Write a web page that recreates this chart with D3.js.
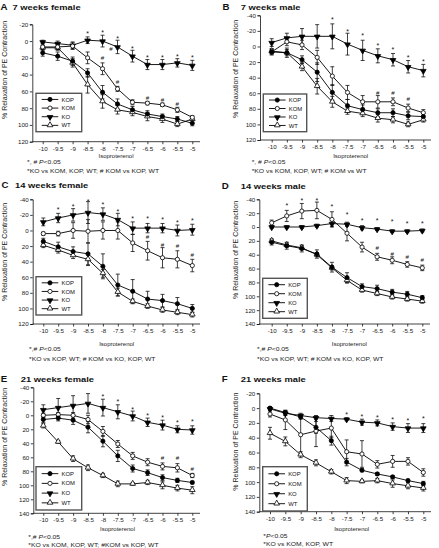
<!DOCTYPE html>
<html><head><meta charset="utf-8">
<script src="https://cdn.jsdelivr.net/npm/d3@7"></script>
<style>
html,body{margin:0;padding:0;background:#fff;}
svg{display:block;font-family:"Liberation Sans",Arial,Helvetica,sans-serif;}
</style></head><body>
<svg id="chart" width="439" height="548"></svg>
<script>
// ---------------- DATA ----------------
const doses = [-10,-9.5,-9,-8.5,-8,-7.5,-7,-6.5,-6,-5.5,-5];
const seriesNames = ["KOP","KOM","KO","WT"];

// Panel A: 7 weeks female
const meanA = {
  KOP:[14,18,24,38,61,75,82,87,90,93,98],
  KOM:[7,7,6,20,33,57,73,74,76,82,91],
  KO:[1,3,5,-1,0,7,18,28,28,26,29],
  WT:[8,8,26,52,72,82,85,90,93,99,93]};
const errA = {
  KOP:[4,5,5,5,8,6,4,4,3,3,3],
  KOM:[2,3,4,7,7,3,3,2,2,3,2],
  KO:[2,3,4,4,7,8,7,6,6,5,6],
  WT:[3,3,5,10,8,5,4,5,4,3,2]};
const starsA = [[-8.5,-10.8],[-8,-11.6],[-7.5,-4.8],[-7,7.2],[-6.5,17.5],[-6,17.5],[-5.5,16.3],[-5,18.3]];
const hashA = [[-7.72,9.6],[-8,19.5],[-7.5,48],[-6.5,67.4],[-6,69.4],[-5.5,74.2]];
const yTicksA = [-20,0,20,40,60,80,100,120];

// Panel B: 7 weeks male
const meanB = {
  KOP:[7,8,17,33,59,76,81,85,85,89,90],
  KOM:[7,-6,-2,14,38,59,71,71,71,79,85],
  KO:[-5,-11,-13,-13,-13,-3,5,12,17,26,31],
  WT:[6,8,26,51,71,83,86,92,94,100,94]};
const errB = {
  KOP:[4,6,5,12,10,8,6,5,5,5,4],
  KOM:[3,5,6,9,12,9,8,8,5,5,4],
  KO:[5,6,10,15,16,14,13,9,8,8,8],
  WT:[3,4,5,10,7,4,4,5,4,3,3]};
const starsB = [[-8,-36.4],[-7.5,-21.4],[-7,-15.8],[-6.5,-3],[-6,2.6],[-5.5,12.8],[-5,17.1]];
const hashB = [[-6.5,59],[-6,59.9],[-5.5,67.2]];
const yTicksB = [-40,-20,0,20,40,60,80,100,120];

// Panel C: 14 weeks female
const meanC = {
  KOP:[14,21,27,30,46,70,78,88,90,94,100],
  KOM:[4,4,0,1,0,0,16,26,35,37,45],
  KO:[-11,-16,-20,-23,-21,-14,-3,-3,-3,0,-1],
  WT:[19,25,32,37,55,79,91,97,102,105,108]};
const errC = {
  KOP:[4,6,6,14,16,14,15,10,8,8,5],
  KOM:[2,3,10,15,11,11,11,12,13,11,8],
  KO:[5,6,8,14,8,8,8,6,6,7,7],
  WT:[3,4,4,8,5,5,3,3,3,3,3]};
const starsC = [[-9.5,-28.2],[-9,-33],[-8.5,-38.9],[-8,-35.1],[-7.5,-26.1],[-7,-17.5],[-6.5,-17.5],[-6,-16.3],[-5.5,-12],[-5,-14.1]];
const hashC = [[-6.5,8.1],[-6,18],[-5.5,20.1],[-5,30.8]];
const yTicksC = [-40,-20,0,20,40,60,80,100,120];

// Panel D: 14 weeks male
const meanD = {
  KOP:[22,27,31,39,58,73,86,89,94,97,102],
  KOM:[-6,-16,-23,-24,-11,9,29,43,48,54,59],
  KO:[0,0,0,-2,-5,-4,1,3,6,6,5],
  WT:[20,26,30,40,59,77,91,96,101,104,107]};
const errD = {
  KOP:[4,5,5,6,7,7,4,5,4,4,3],
  KOM:[4,8,11,12,11,11,7,5,5,4,4],
  KO:[2,2,2,2,4,3,3,2,2,2,2],
  WT:[3,3,3,3,3,4,3,3,3,3,3]};
const starsD = [[-9.5,-33.7],[-9,-40.9],[-8.5,-40.9],[-8,-31.3],[-7.5,-20.7],[-7,-12],[-6.5,-12],[-6,-9.6],[-5.5,-7.2],[-5,-7.2]];
const hashD = [[-6.5,30.3],[-6,38.5],[-5.5,42.3],[-5,46.7]];
const yTicksD = [-40,-20,0,20,40,60,80,100,120,140];

// Panel E: 21 weeks female
const meanE = {
  KOP:[6,4,7,17,37,58,76,82,89,93,96],
  KOM:[0,-1,0,6,23,41,58,67,73,75,86],
  KO:[-8,-11,-14,-17,-11,-5,1,10,14,20,21],
  WT:[15,38,62,75,86,98,98,96,100,104,107]};
const errE = {
  KOP:[4,4,6,8,8,8,5,4,4,3,2],
  KOM:[3,3,4,6,7,5,5,5,5,6,3],
  KO:[7,13,14,14,12,10,7,6,7,5,6],
  WT:[3,2,4,4,3,4,2,3,5,4,5]};
const starsE = [[-8,-29.5],[-7.5,-21.4],[-7,-10.5],[-6.5,-2.4],[-6,1],[-5.5,8.6],[-5,7.1]];
const hashE = [[-6,61],[-5.5,61],[-5,76]];
const yTicksE = [-40,-20,0,20,40,60,80,100,120,140];

// Panel F: 21 weeks male
const meanF = {
  KOP:[0,6,12,26,44,73,84,89,93,98,102],
  KOM:[8,16,36,31,27,59,62,76,72,72,87],
  KO:[1,7,10,13,14,15,19,20,25,27,27],
  WT:[34,45,63,74,86,98,99,98,102,105,108]};
const errF = {
  KOP:[2,3,3,8,6,5,2,2,2,2,3],
  KOM:[4,13,26,21,13,16,18,5,8,5,5],
  KO:[2,3,3,2,4,2,4,4,5,6,6],
  WT:[8,6,4,4,3,4,2,3,5,4,4]};
const starsF = [[-7.5,6.3],[-7,9],[-6.5,11.3],[-6,13],[-5.5,14.4],[-5,12.2]];
const hashF = [];
const yTicksF = [-20,0,20,40,60,80,100,120,140];

const titles = ["7 weeks female","7 weeks male","14 weeks female","14 weeks male","21 weeks female","21 weeks male"];
const letters = ["A","B","C","D","E","F"];
const notes1 = [["*, # ","<0.05"],["*, # ","<0.05"],["*,# ","<0.05"],["*,# ","<0.05"],["*,# ","<0.05"],["*","<0.05"]];
const notes2 = ["*KO vs KOM, KOP, WT; # KOM vs KOP, WT","*KO vs KOM, KOP, WT; # KOM vs WT",
  "*KO vs KOP, WT; # KOM vs KO, KOP, WT","*KO vs KOP, WT; # KOM vs KO, KOP, WT",
  "*KO vs KOM, KOP, WT; #KOM vs KOP, WT","*KO vs KOM, KOP, WT"];
const yLabel = "% Relaxation of PE Contraction";
const xLabel = "Isoproterenol";

// ---------------- LAYOUT ----------------
const layouts = [
 {ax:32.3,xl:42.7,xr:192.3,xEnd:200,yTop:24.3,yBot:141.7,letter:[0.5,9.5],title:[12.5,9.5],ylab:[7,70],xlab:[116,157.5],note:[27,164,172.5],leg:[36,93.3,45.7,38.4]},
 {ax:260,xl:271.7,xr:423.3,xEnd:431,yTop:15.3,yBot:140,letter:[222.5,10],title:[240.7,9.5],ylab:[238,69],xlab:[350.7,158],note:[251.7,164,172.5],leg:[263.3,94,43.4,37.7]},
 {ax:32.7,xl:43.3,xr:192.3,xEnd:200,yTop:199.3,yBot:324,letter:[1.5,188],title:[15,188],ylab:[7,252],xlab:[116.7,346],note:[29,350.5,360.5],leg:[36,276.7,45.7,38.3]},
 {ax:259.3,xl:271.7,xr:422.3,xEnd:430,yTop:199.3,yBot:324,letter:[221.7,189],title:[240.7,189],ylab:[238,250],xlab:[349.3,345.5],note:[257,350.5,360.5],leg:[262.7,278.3,44.6,40]},
 {ax:33.3,xl:43.3,xr:192.3,xEnd:200,yTop:387.3,yBot:513.3,letter:[0.7,381.7],title:[20.7,382],ylab:[7,437],xlab:[117.5,530.5],note:[28.3,539,546.8],leg:[36,466.7,45.7,43.3]},
 {ax:259.3,xl:270,xr:423.3,xEnd:431,yTop:393.3,yBot:511.7,letter:[221.7,381.7],title:[240.7,381.7],ylab:[238,441.7],xlab:[351.7,530.5],note:[263.3,537.5,545.8],leg:[262.7,466.7,44.6,44.3]}
];
const panelData = [
 {mean:meanA,err:errA,stars:starsA,hash:hashA,yTicks:yTicksA},
 {mean:meanB,err:errB,stars:starsB,hash:hashB,yTicks:yTicksB},
 {mean:meanC,err:errC,stars:starsC,hash:hashC,yTicks:yTicksC},
 {mean:meanD,err:errD,stars:starsD,hash:hashD,yTicks:yTicksD},
 {mean:meanE,err:errE,stars:starsE,hash:hashE,yTicks:yTicksE},
 {mean:meanF,err:errF,stars:starsF,hash:hashF,yTicks:yTicksF}
];

const svg = d3.select("#chart");
const FONT = '"Liberation Sans",Arial,Helvetica,sans-serif';

function stretchText(g, x, y, str, size, sx, weight) {
  return g.append("text")
    .attr("transform", `translate(${x},${y}) scale(${sx},1)`)
    .attr("font-size", size).attr("font-weight", weight || "normal")
    .attr("fill", "#111").text(str);
}

function drawMarker(g, name, cx, cy) {
  if (name === "KOP" || name === "KOM") {
    g.append("circle").attr("cx", cx).attr("cy", cy).attr("r", 2.1)
      .attr("fill", name === "KOP" ? "#000" : "#fff")
      .attr("stroke", "#000").attr("stroke-width", 0.8);
  } else {
    const down = name === "KO";
    g.append("path")
      .attr("d", d3.symbol().type(d3.symbolTriangle).size(14)())
      .attr("transform", `translate(${cx},${cy + (down ? 0.4 : -0.3)}) rotate(${down ? 180 : 0})`)
      .attr("fill", down ? "#000" : "#fff")
      .attr("stroke", "#000").attr("stroke-width", 0.8);
  }
}

panelData.forEach((pd, i) => {
  const L = layouts[i];
  const g = svg.append("g");
  const x = d3.scaleLinear().domain([doses[0], doses[doses.length - 1]]).range([L.xl, L.xr]);
  const yDom = d3.extent(pd.yTicks);
  const y = d3.scaleLinear().domain(yDom).range([L.yTop, L.yBot]);

  // y axis
  const yAx = g.append("g").attr("transform", `translate(${L.ax},0)`)
    .call(d3.axisLeft(y).tickValues(pd.yTicks).tickSize(2.5).tickPadding(1.5).tickFormat(d => String(d)));
  yAx.select(".domain").attr("stroke", "#111").attr("stroke-width", 0.8);
  yAx.selectAll(".tick line").attr("stroke", "#111").attr("stroke-width", 0.8);
  yAx.selectAll("text").attr("font-size", 6.2).attr("font-family", FONT).attr("fill", "#222");

  // x axis
  const xAx = g.append("g").attr("transform", `translate(0,${L.yBot})`)
    .call(d3.axisBottom(x).tickValues(doses).tickSize(2.5).tickPadding(2).tickFormat(d => String(d)));
  xAx.select(".domain").remove();
  xAx.append("line").attr("x1", L.ax).attr("x2", L.xEnd).attr("stroke", "#111").attr("stroke-width", 0.8);
  xAx.selectAll(".tick line").attr("stroke", "#111").attr("stroke-width", 0.8);
  xAx.selectAll("text").attr("font-size", 6.2).attr("font-family", FONT).attr("fill", "#222");

  // lines
  seriesNames.forEach(s => {
    const line = d3.line().x((d, k) => x(doses[k])).y(d => y(d));
    g.append("path").attr("d", line(pd.mean[s])).attr("fill", "none")
      .attr("stroke", "#000").attr("stroke-width", 0.9);
  });
  // error bars
  seriesNames.forEach(s => {
    pd.mean[s].forEach((v, k) => {
      const e = pd.err[s][k];
      const cx = x(doses[k]);
      const eb = g.append("g").attr("stroke", "#111").attr("stroke-width", 0.8);
      eb.append("line").attr("x1", cx).attr("x2", cx).attr("y1", y(v - e)).attr("y2", y(v + e));
      eb.append("line").attr("x1", cx - 2).attr("x2", cx + 2).attr("y1", y(v - e)).attr("y2", y(v - e));
      eb.append("line").attr("x1", cx - 2).attr("x2", cx + 2).attr("y1", y(v + e)).attr("y2", y(v + e));
    });
  });
  // markers
  seriesNames.slice().reverse().forEach(s => {
    pd.mean[s].forEach((v, k) => drawMarker(g, s, x(doses[k]), y(v)));
  });

  // significance symbols
  pd.stars.forEach(([dx, dv]) => {
    g.append("text").attr("x", x(dx)).attr("y", y(dv) + 3.9).attr("text-anchor", "middle")
      .attr("font-size", 7).attr("fill", "#111").text("*");
  });
  pd.hash.forEach(([dx, dv]) => {
    g.append("text").attr("x", x(dx)).attr("y", y(dv) + 2.3).attr("text-anchor", "middle")
      .attr("font-size", 6.2).attr("fill", "#111").text("#");
  });

  // legend
  const [lx, ly, lw, lh] = L.leg;
  g.append("rect").attr("x", lx).attr("y", ly).attr("width", lw).attr("height", lh)
    .attr("fill", "#fff").attr("stroke", "#555").attr("stroke-width", 1.4);
  seriesNames.forEach((s, k) => {
    const ry = ly + lh * (0.16 + k * 0.225);
    g.append("line").attr("x1", lx + 5.7).attr("x2", lx + 22.3).attr("y1", ry).attr("y2", ry)
      .attr("stroke", "#000").attr("stroke-width", 0.9);
    drawMarker(g, s, lx + 14, ry);
    g.append("text").attr("x", lx + 25.5).attr("y", ry + 2.1).attr("font-size", 5.9)
      .attr("fill", "#111").text(s);
  });

  // titles
  stretchText(g, L.letter[0], L.letter[1], letters[i], 8.8, 1.1, "bold");
  stretchText(g, L.title[0], L.title[1], titles[i], 7.8, 1.2, "bold");

  // axis labels
  g.append("text").attr("transform", `translate(${L.ylab[0]},${L.ylab[1]}) rotate(-90)`)
    .attr("text-anchor", "middle").attr("font-size", 7).attr("fill", "#222").text(yLabel);
  g.append("text").attr("x", L.xlab[0]).attr("y", L.xlab[1]).attr("text-anchor", "middle")
    .attr("font-size", 6).attr("fill", "#222").text(xLabel);

  // footnotes
  const n1 = g.append("text").attr("transform", `translate(${L.note[0]},${L.note[1]}) scale(1.13,1)`)
    .attr("font-size", 6).attr("fill", "#222");
  n1.append("tspan").text(notes1[i][0]);
  n1.append("tspan").attr("font-style", "italic").text("P");
  n1.append("tspan").text(notes1[i][1]);
  stretchText(g, L.note[0], L.note[2], notes2[i], 6, 1.13).attr("fill", "#222");
});
</script>
</body></html>
